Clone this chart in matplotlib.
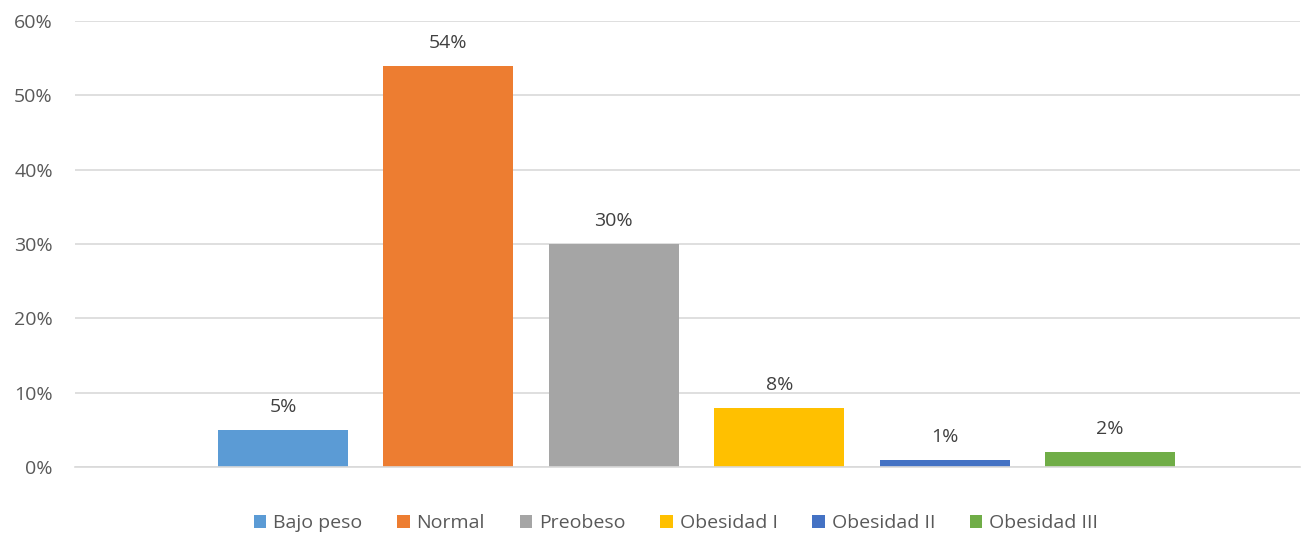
import matplotlib
matplotlib.use("Agg")
import matplotlib.pyplot as plt
from matplotlib.patches import Patch

categories = ["Bajo peso", "Normal", "Preobeso", "Obesidad I", "Obesidad II", "Obesidad III"]
values = [0.05, 0.54, 0.30, 0.08, 0.01, 0.02]
labels = ["5%", "54%", "30%", "8%", "1%", "2%"]
colors = ["#5B9BD5", "#ED7D31", "#A5A5A5", "#FFC000", "#4472C4", "#70AD47"]
yticks = [0, 0.1, 0.2, 0.3, 0.4, 0.5, 0.6]
ytick_labels = ["0%", "10%", "20%", "30%", "40%", "50%", "60%"]

plt.rcParams['font.family'] = ['Open Sans', 'DejaVu Sans']
fs = 14
fig = plt.figure(figsize=(13.07, 5.33), dpi=100)
ax = fig.add_axes([75/1307, 66/533, 1225/1307, 446/533])

x = list(range(len(categories)))
bars = ax.bar(x, values, width=130/165.4, color=colors, zorder=3)
for xi, v, lab in zip(x, values, labels):
    ax.annotate(lab, (xi, v), xytext=(0, 10), textcoords="offset points",
                ha="center", va="bottom", fontsize=fs, color="#404040")

ax.set_xlim(-1.258, 6.149)
ax.set_ylim(0, 0.6)
ax.set_yticks(yticks)
ax.set_yticklabels(ytick_labels, fontsize=fs, color="#595959")
ax.set_xticks([])
ax.tick_params(axis="y", length=0, pad=16)
ax.grid(axis="y", color="#D9D9D9", linewidth=1.2, zorder=0)
for s in ["top", "right", "left"]:
    ax.spines[s].set_visible(False)
ax.spines["bottom"].set_color("#D9D9D9")
ax.spines["bottom"].set_linewidth(1.2)
ax.spines["bottom"].set_zorder(4)

handles = [Patch(facecolor=c, label=l) for c, l in zip(colors, categories)]
fig.legend(handles=handles, loc="center", bbox_to_anchor=(676/1307, 1 - 523/533),
           ncol=6, frameon=False, fontsize=fs, handlelength=0.65, handleheight=0.65,
           handletextpad=0.35, columnspacing=1.78, labelcolor="#595959")

fig.savefig("out.png", dpi=100)
